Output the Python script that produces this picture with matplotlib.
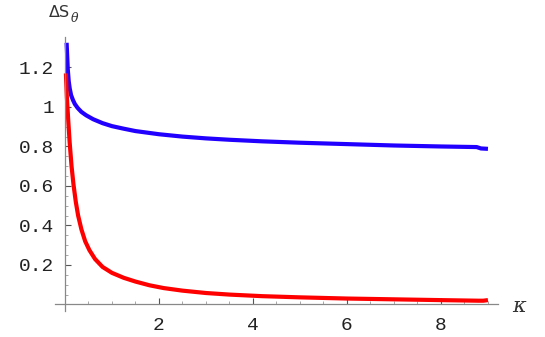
import matplotlib
matplotlib.use("Agg")
import matplotlib.pyplot as plt
import numpy as np

# Data
blue_x = [0.035, 0.045, 0.06, 0.08, 0.10, 0.13, 0.17, 0.21, 0.27, 0.35, 0.45, 0.60, 0.80, 1.0, 1.25, 1.5, 2.0, 2.5, 3.0, 3.5, 4.2, 5.0, 6.0, 7.0, 8.0, 8.76, 8.85, 9.0]
blue_y = [1.325, 1.27, 1.19, 1.13, 1.095, 1.06, 1.035, 1.015, 0.995, 0.975, 0.958, 0.938, 0.918, 0.903, 0.89, 0.878, 0.862, 0.85, 0.841, 0.834, 0.826, 0.819, 0.812, 0.805, 0.800, 0.797, 0.790, 0.788]

red_x = [0.02, 0.04, 0.07, 0.10, 0.14, 0.18, 0.23, 0.28, 0.35, 0.43, 0.52, 0.64, 0.80, 1.0, 1.25, 1.5, 1.8, 2.1, 2.5, 3.0, 3.5, 4.2, 5.0, 6.0, 7.0, 8.0, 8.8, 8.9, 9.0]
red_y = [1.17, 1.05, 0.93, 0.82, 0.70, 0.61, 0.52, 0.45, 0.38, 0.32, 0.275, 0.23, 0.19, 0.16, 0.135, 0.116, 0.097, 0.083, 0.07, 0.058, 0.05, 0.042, 0.036, 0.030, 0.026, 0.022, 0.019, 0.019, 0.022]

x_ticks = [2, 4, 6, 8]
x_tick_labels = ["2", "4", "6", "8"]
y_ticks = [0.2, 0.4, 0.6, 0.8, 1.0, 1.2]
y_tick_labels = ["0.2", "0.4", "0.6", "0.8", "1", "1.2"]

W, H = 545, 337
fig = plt.figure(figsize=(W / 100, H / 100), dpi=100)
ax = fig.add_axes([0.1011, 0.0772, 0.8132, 0.8134])

ax.plot(blue_x, blue_y, color="#2200ff", lw=3.0, solid_capstyle="butt", solid_joinstyle="round")
ax.plot(red_x, red_y, color="#ff0000", lw=3.0, solid_capstyle="butt", solid_joinstyle="round")

ax.set_xlim(-0.21, 9.22)
ax.set_ylim(-0.033, 1.355)

for s in ["top", "right"]:
    ax.spines[s].set_visible(False)
ax.spines["left"].set_position(("data", 0))
ax.spines["bottom"].set_position(("data", 0))
for s in ["left", "bottom"]:
    ax.spines[s].set_color("#888888")
    ax.spines[s].set_linewidth(0.9)

ax.set_xticks(x_ticks)
ax.set_xticklabels(x_tick_labels)
ax.set_yticks(y_ticks)
ax.set_yticklabels(y_tick_labels)
ax.set_xticks(np.arange(0.5, 9.01, 0.5), minor=True)
ax.set_yticks(np.arange(0.05, 1.301, 0.05), minor=True)

ax.tick_params(axis="both", which="major", direction="in", length=4, width=0.8,
               color="#555555", labelsize=14)
ax.tick_params(axis="both", which="minor", direction="in", length=2.5, width=0.6,
               color="#999999")
ax.tick_params(axis="y", which="major", pad=8)
ax.tick_params(axis="x", which="major", pad=9)
for lab in ax.get_xticklabels() + ax.get_yticklabels():
    lab.set_fontfamily("Liberation Mono")
    lab.set_color("#222222")

ax.patch.set_visible(False)

fig.text(49 / W, 1 - 12.5 / H, "ΔS", fontsize=11.5, family="DejaVu Sans",
         color="#333333", va="center", ha="left")
fig.text(71 / W, 1 - 18 / H, "θ", fontsize=9, family="DejaVu Serif", style="italic",
         color="#333333", va="center", ha="left")
fig.text(519 / W, 1 - 306 / H, "κ", fontsize=15, family="DejaVu Serif", style="italic",
         color="#333333", va="center", ha="center")

fig.savefig("out.png", dpi=100)
